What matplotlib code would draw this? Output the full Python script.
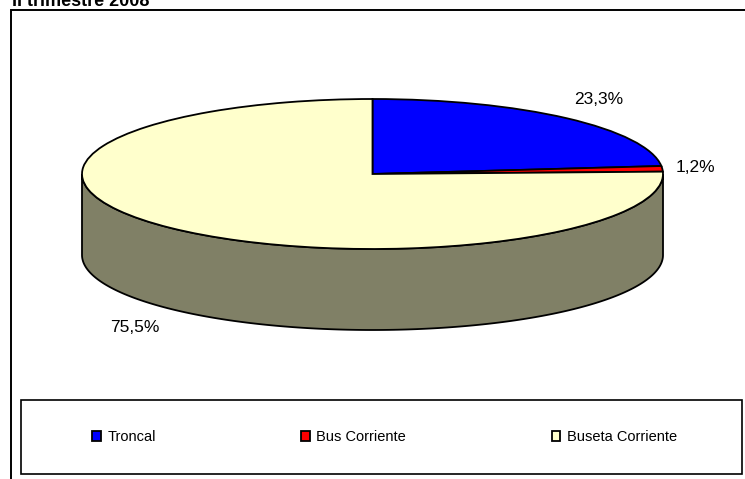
import numpy as np
import matplotlib
matplotlib.use("Agg")
import matplotlib.pyplot as plt
from matplotlib.patches import Rectangle, Polygon
from matplotlib.colors import to_rgb

plt.rcParams['font.family'] = ['Liberation Sans', 'DejaVu Sans']

title = "II trimestre 2008"
categories = ["Troncal", "Bus Corriente", "Buseta Corriente"]
values = [23.3, 1.2, 75.5]
colors = ["#0000FF", "#FF0000", "#FFFFCC"]

W, H = 745, 479
fig = plt.figure(figsize=(W / 100, H / 100), dpi=100)

def fx(px):
    return px / W

def fy(py):
    return 1 - py / H

# pie geometry (pixels)
left_px, right_px = 82, 663
top_px, bottom_px = 99, 330
ry_px = 75
depth = (bottom_px - top_px - 2 * ry_px) / ry_px

ax = fig.add_axes([fx(left_px), fy(bottom_px), (right_px - left_px) / W, (bottom_px - top_px) / H])
ax.set_axis_off()

wedges, _ = ax.pie(values, colors=colors, startangle=90, counterclock=False,
                   wedgeprops=dict(edgecolor="black", linewidth=1.3))
for w in wedges:
    w.set_clip_on(False)
    w.set_zorder(3)

# side wall (visible front half) for each wedge
total = sum(values)
cum = 0.0
for v, c in zip(values, colors):
    t1 = 90 - cum / total * 360
    t2 = 90 - (cum + v) / total * 360
    cum += v
    lo, hi = max(t2, -180), min(t1, 0)
    if hi <= lo:
        continue
    phi = np.radians(np.linspace(lo, hi, 200))
    xs, ys = np.cos(phi), np.sin(phi)
    pts = np.vstack([np.column_stack([xs, ys]),
                     np.column_stack([xs[::-1], ys[::-1] - depth])])
    dark = tuple(0.5 * np.array(to_rgb(c)))
    ax.add_patch(Polygon(pts, closed=True, facecolor=dark, edgecolor="black",
                         linewidth=1.3, zorder=2, clip_on=False))

ax.set_aspect("auto")
ax.set_xlim(-1, 1)
ax.set_ylim(-1 - depth, 1)

# data labels
label_pos = [(599, 100), (695, 167), (135, 327)]
for v, (px, py) in zip(values, label_pos):
    fig.text(fx(px), fy(py), f"{v:.1f}%".replace(".", ","), ha="center", va="center",
             fontsize=12.5, color="black")

# title
fig.text(fx(12), fy(6), title, fontsize=13, fontweight="bold", ha="left", va="baseline")

# outer border
fig.add_artist(Rectangle((fx(11), -0.1), 1.2, fy(10) + 0.1, transform=fig.transFigure,
                         fill=False, edgecolor="black", linewidth=1.4))

# legend box
fig.add_artist(Rectangle((fx(21), fy(474)), (742 - 21) / W, (474 - 400) / H,
                         transform=fig.transFigure, fill=False, edgecolor="black", linewidth=1.2))

leg = fig.legend(wedges, categories, loc="center", ncol=3, mode="expand",
                 bbox_to_anchor=(fx(92), fy(447), (677 - 92) / W, 20 / H),
                 frameon=False, fontsize=10.5, handlelength=0.6, handleheight=0.65,
                 handletextpad=0.45, borderpad=0, borderaxespad=0)

fig.savefig("out.png", dpi=100)
